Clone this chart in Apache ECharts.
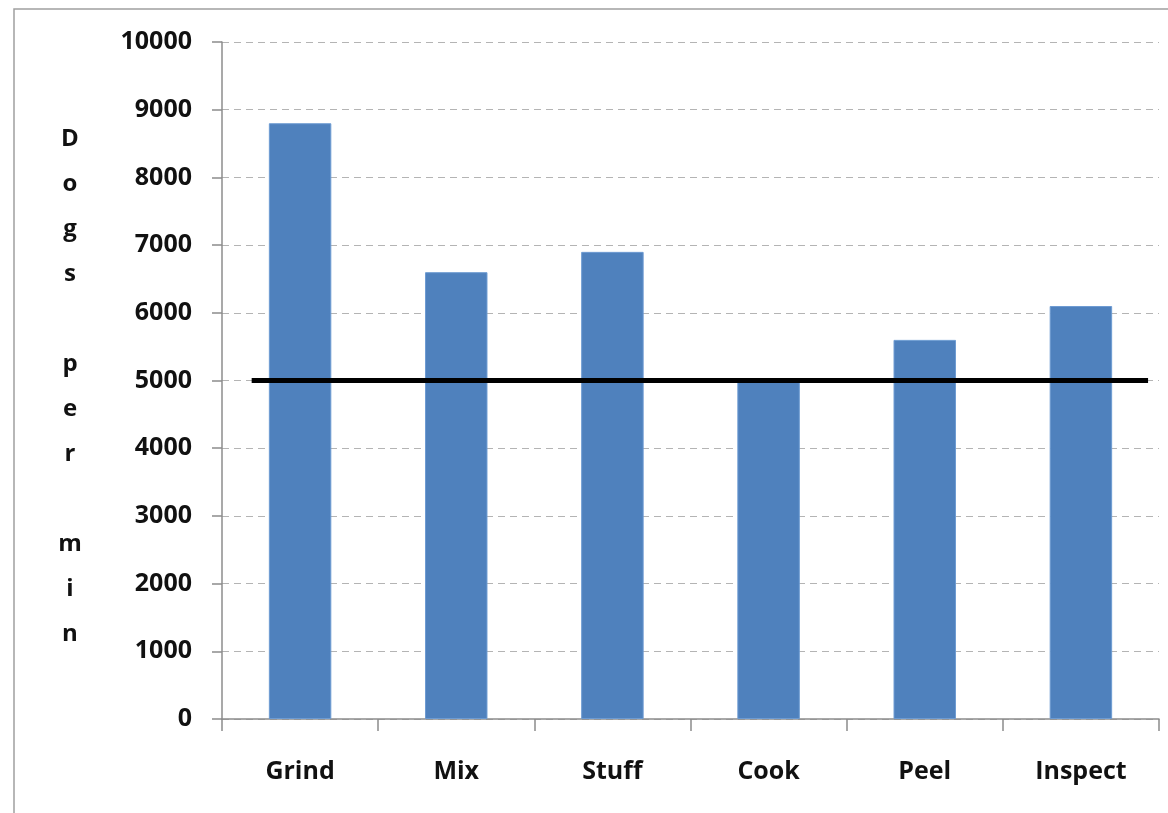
<!DOCTYPE html>
<html>
<head>
<meta charset="utf-8">
<script src="https://cdn.jsdelivr.net/npm/echarts@6/dist/echarts.min.js"></script>
<style>
  html, body { margin: 0; padding: 0; background: #ffffff; }
  #chart { width: 1168px; height: 813px; }
</style>
</head>
<body>
<div id="chart"></div>
<script>
// Hot-dog line: throughput per station
const stations = ['Grind', 'Mix', 'Stuff', 'Cook', 'Peel', 'Inspect'];
const dogsPerMin = [8800, 6600, 6900, 5000, 5600, 6100];
const yTicks = [0, 1000, 2000, 3000, 4000, 5000, 6000, 7000, 8000, 9000, 10000];
const demandRate = 5000;
const axisTitle = 'Dogs per min';

const FONT = '"Open Sans"';
const chart = echarts.init(document.getElementById('chart'), null, { renderer: 'canvas' });

// vertical title: one letter per line, a blank line between words
const stackedTitle = axisTitle.split(' ').map(w => w.split('').join('\n')).join('\n\n');

chart.setOption({
  animation: false,
  backgroundColor: '#ffffff',
  grid: { left: 222, right: 9, top: 42, bottom: 94 },
  graphic: [
    {
      type: 'rect',
      shape: { x: 14, y: 9, width: 1300, height: 900 },
      style: { fill: 'none', stroke: '#a0a0a0', lineWidth: 1.5 },
      silent: true
    },
    {
      type: 'text',
      x: 70, y: 387,
      style: {
        text: stackedTitle,
        font: 'bold 24px ' + FONT,
        fill: '#111',
        align: 'center',
        verticalAlign: 'middle',
        lineHeight: 45
      }
    }
  ],
  xAxis: [
    {
      type: 'category',
      data: stations,
      axisLine: { lineStyle: { color: '#8c8c8c', width: 1.5 } },
      axisTick: { show: true, length: 12, lineStyle: { color: '#8c8c8c', width: 1.5 } },
      axisLabel: { margin: 40, color: '#111', fontFamily: FONT, fontWeight: 'bold', fontSize: 25 },
      splitLine: { show: false }
    },
    {
      type: 'value', min: 0, max: 6, show: false
    }
  ],
  yAxis: {
    type: 'value',
    min: yTicks[0],
    max: yTicks[yTicks.length - 1],
    interval: yTicks[1] - yTicks[0],
    axisLine: { show: true, lineStyle: { color: '#8c8c8c', width: 1.5 } },
    axisTick: { show: true, length: 10, lineStyle: { color: '#8c8c8c', width: 1.5 } },
    axisLabel: {
      margin: 30, color: '#111', fontFamily: FONT, fontWeight: 'bold', fontSize: 25,
      formatter: v => String(v)
    },
    splitLine: { show: true, lineStyle: { color: '#b4b4b4', type: [7, 5], width: 1 } }
  },
  series: [
    {
      type: 'bar',
      data: dogsPerMin,
      barWidth: '40%',
      itemStyle: { color: '#4f81bd', borderColor: '#6d9bd2', borderWidth: 1 }
    },
    {
      type: 'line',
      xAxisIndex: 1,
      data: [[0.19, demandRate], [5.93, demandRate]],
      symbol: 'none',
      lineStyle: { color: '#000000', width: 5 },
      z: 5
    }
  ]
});
</script>
</body>
</html>
